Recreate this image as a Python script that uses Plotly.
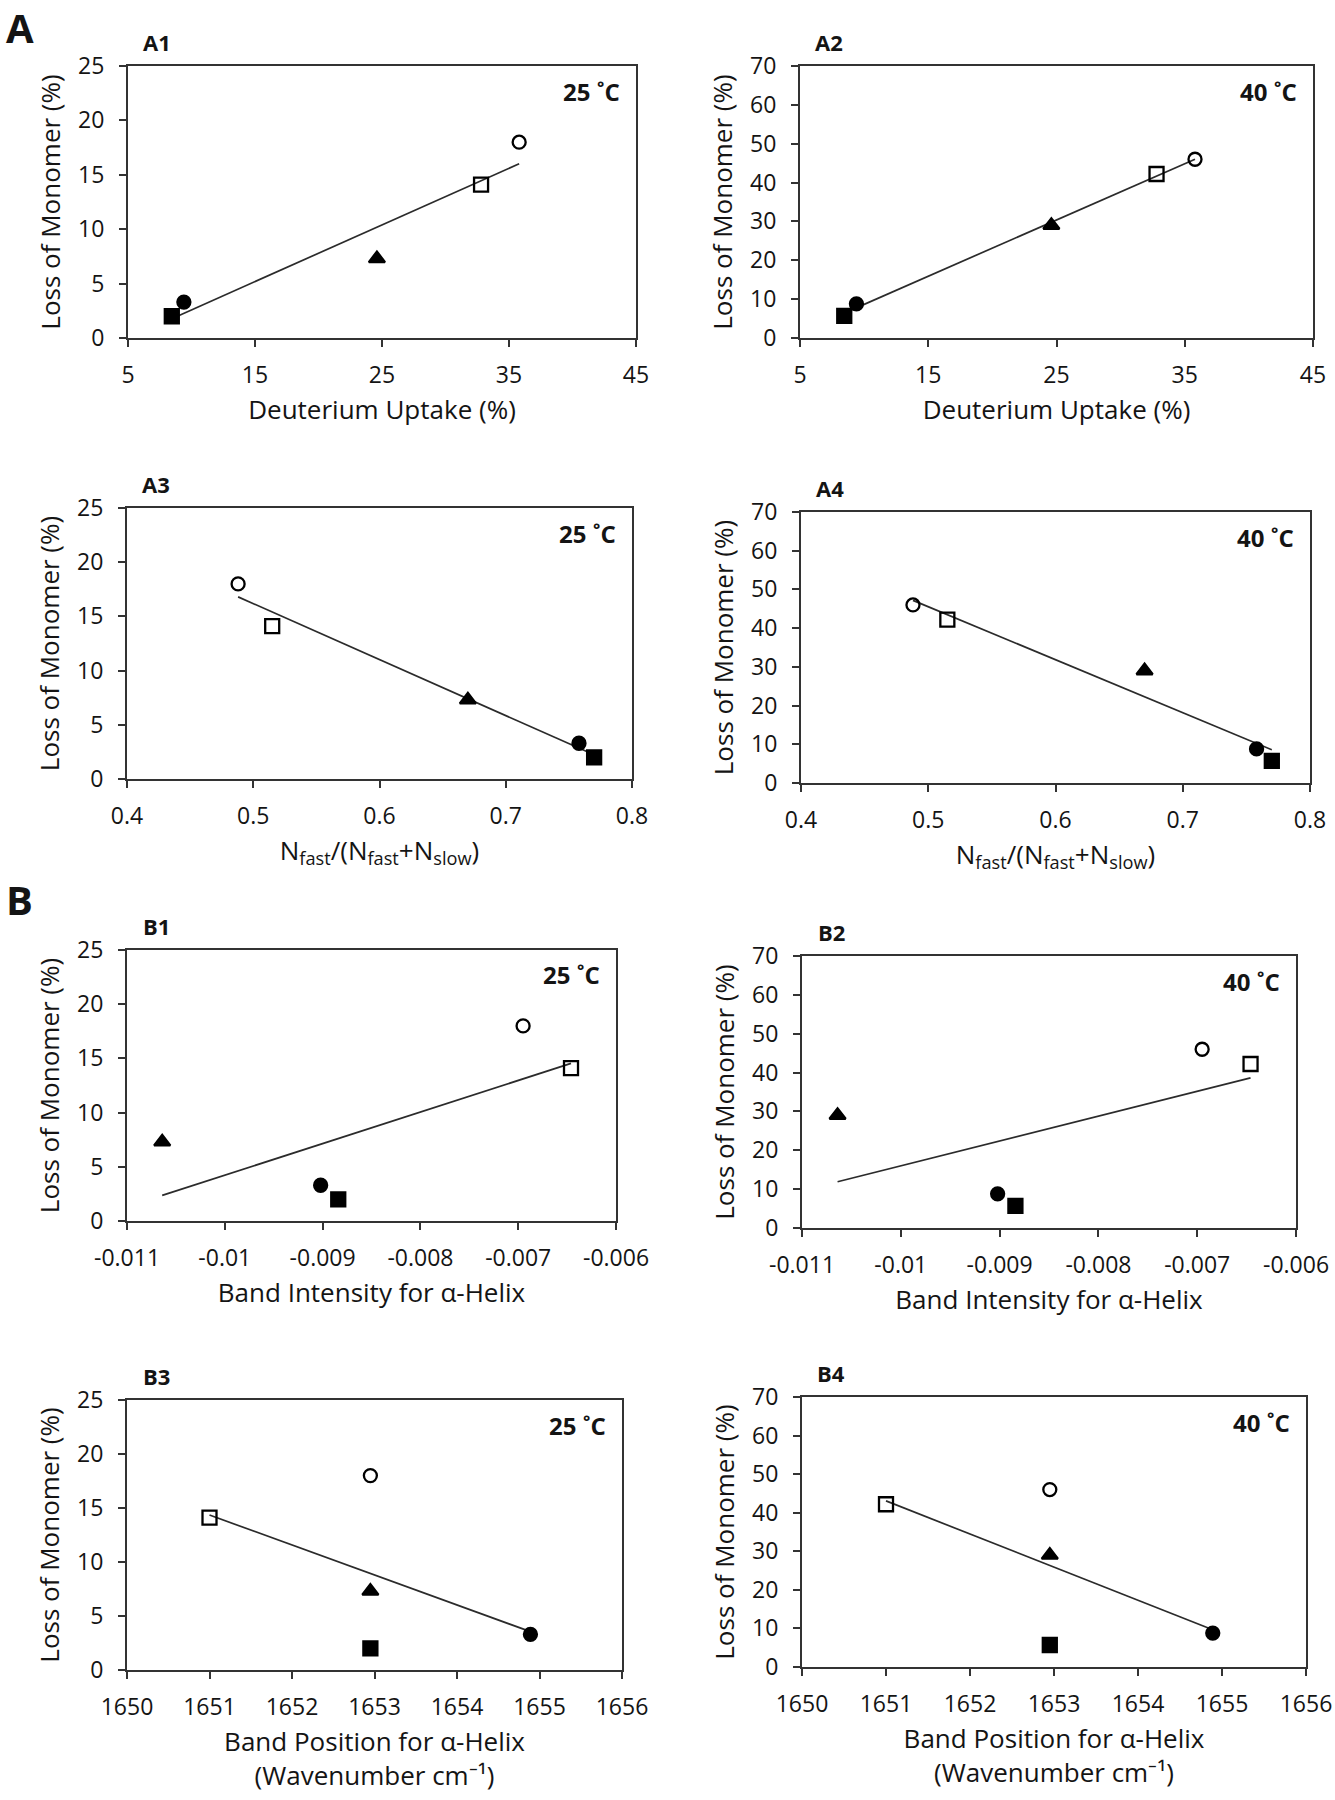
import numpy as np
import plotly.graph_objects as go

# ---------------- data ----------------
# sample order: filled square, filled circle, filled triangle, open square, open circle
sample_names = ["Sample 1", "Sample 2", "Sample 3", "Sample 4", "Sample 5"]
marker_symbols = ["square", "circle", "triangle-up", "square-open", "circle-open"]

loss_25C = [2.0, 3.3, 7.3, 14.1, 18.0]
loss_40C = [5.7, 8.8, 29.0, 42.2, 46.0]

deuterium_uptake = [8.45, 9.4, 24.6, 32.8, 35.8]
n_fast_fraction = [0.770, 0.758, 0.670, 0.515, 0.488]
band_intensity = [-0.00884, -0.00902, -0.01064, -0.00646, -0.00695]
band_position = [1652.95, 1654.89, 1652.95, 1651.0, 1652.95]

x_ticks_deut = [5, 15, 25, 35, 45]
x_ticks_frac = [0.4, 0.5, 0.6, 0.7, 0.8]
x_ticks_int = [-0.011, -0.010, -0.009, -0.008, -0.007, -0.006]
x_ticktext_int = ["-0.011", "-0.01", "-0.009", "-0.008", "-0.007", "-0.006"]
x_ticks_pos = [1650, 1651, 1652, 1653, 1654, 1655, 1656]
y_ticks_25 = [0, 5, 10, 15, 20, 25]
y_ticks_70 = [0, 10, 20, 30, 40, 50, 60, 70]

# ---------------- layout geometry (pixels) ----------------
W, H = 1335, 1800
FONT = "Open Sans"
TXT = "#141414"
AX = "#333333"

def px_x(x):
    return x / W

def px_y(y):
    return 1 - y / H

xt_deut = "Deuterium Uptake (%)"
xt_frac = "N<sub>fast</sub>/(N<sub>fast</sub>+N<sub>slow</sub>)"
xt_int = "Band Intensity for α-Helix"
xt_pos = "Band Position for α-Helix<br>(Wavenumber cm⁻¹)"

panels = [
    # label, temp, x, y, xticks, xtext, yticks, xtitle, box(l, r, t, b)
    ("A1", "25 ˚C", deuterium_uptake, loss_25C, x_ticks_deut, None, y_ticks_25, xt_deut, (128, 636, 66, 338)),
    ("A2", "40 ˚C", deuterium_uptake, loss_40C, x_ticks_deut, None, y_ticks_70, xt_deut, (800, 1313, 66, 338)),
    ("A3", "25 ˚C", n_fast_fraction, loss_25C, x_ticks_frac, None, y_ticks_25, xt_frac, (127, 632, 508, 779)),
    ("A4", "40 ˚C", n_fast_fraction, loss_40C, x_ticks_frac, None, y_ticks_70, xt_frac, (801, 1310, 512, 783)),
    ("B1", "25 ˚C", band_intensity, loss_25C, x_ticks_int, x_ticktext_int, y_ticks_25, xt_int, (127, 616, 950, 1221)),
    ("B2", "40 ˚C", band_intensity, loss_40C, x_ticks_int, x_ticktext_int, y_ticks_70, xt_int, (802, 1296, 956, 1228)),
    ("B3", "25 ˚C", band_position, loss_25C, x_ticks_pos, None, y_ticks_25, xt_pos, (127, 622, 1400, 1670)),
    ("B4", "40 ˚C", band_position, loss_40C, x_ticks_pos, None, y_ticks_70, xt_pos, (802, 1306, 1397, 1667)),
]

fig = go.Figure()
annotations = []

for i, (lab, temp, xs, ys, xticks, xtext, yticks, xtitle, box) in enumerate(panels):
    n = i + 1
    xa = "x" if n == 1 else f"x{n}"
    ya = "y" if n == 1 else f"y{n}"
    l, r, t, b = box

    # trend line (least-squares fit over the data)
    xs_a = np.array(xs, dtype=float)
    ys_a = np.array(ys, dtype=float)
    slope, intercept = np.polyfit(xs_a, ys_a, 1)
    xl = np.array([xs_a.min(), xs_a.max()])
    fig.add_trace(go.Scatter(x=xl, y=slope * xl + intercept, mode="lines",
                             line=dict(color="#2b2b2b", width=1.7),
                             xaxis=xa, yaxis=ya, showlegend=False, hoverinfo="skip"))

    for k in range(len(xs)):
        fig.add_trace(go.Scatter(
            x=[xs[k]], y=[ys[k]], mode="markers", name=sample_names[k],
            marker=dict(symbol=marker_symbols[k], size=13 if "circle" in marker_symbols[k] else 14,
                        color="black", line=dict(color="black", width=2.3)),
            xaxis=xa, yaxis=ya, showlegend=False, cliponaxis=False))

    axis_common = dict(showgrid=False, zeroline=False, showline=True, mirror=True,
                       linecolor=AX, linewidth=2, ticks="outside", ticklen=7,
                       tickwidth=1.5, tickcolor=AX, automargin=False,
                       tickfont=dict(family=FONT, size=23, color=TXT))
    xkey = "xaxis" if n == 1 else f"xaxis{n}"
    ykey = "yaxis" if n == 1 else f"yaxis{n}"
    xd = dict(axis_common, domain=[px_x(l), px_x(r)], anchor=ya,
              range=[xticks[0], xticks[-1]], tickvals=xticks,
              ticklabelstandoff=8,
              title=dict(text=xtitle, font=dict(family=FONT, size=26, color=TXT), standoff=12))
    if xtext is not None:
        xd["ticktext"] = xtext
    yd = dict(axis_common, domain=[px_y(b), px_y(t)], anchor=xa,
              range=[yticks[0], yticks[-1]], tickvals=yticks,
              ticklabelstandoff=10,
              title=dict(text="Loss of Monomer (%)", font=dict(family=FONT, size=26, color=TXT), standoff=10))
    fig.update_layout({xkey: xd, ykey: yd})

    # panel label
    annotations.append(dict(text=f"<b>{lab}</b>", x=px_x(l + 29), y=px_y(t - 24),
                            xref="paper", yref="paper", showarrow=False,
                            xanchor="center", yanchor="middle",
                            font=dict(family=FONT, size=22, color=TXT)))
    # temperature label
    annotations.append(dict(text=f"<b>{temp}</b>", x=px_x(r - 14), y=px_y(t + 25),
                            xref="paper", yref="paper", showarrow=False,
                            xanchor="right", yanchor="middle",
                            font=dict(family=FONT, size=24, color=TXT)))

# section letters
annotations.append(dict(text="<b>A</b>", x=px_x(4), y=px_y(27), xref="paper", yref="paper",
                        showarrow=False, xanchor="left", yanchor="middle",
                        font=dict(family=FONT, size=40, color=TXT)))
annotations.append(dict(text="<b>B</b>", x=px_x(4), y=px_y(899), xref="paper", yref="paper",
                        showarrow=False, xanchor="left", yanchor="middle",
                        font=dict(family=FONT, size=40, color=TXT)))

fig.update_layout(width=W, height=H, margin=dict(l=0, r=0, t=0, b=0),
                  paper_bgcolor="white", plot_bgcolor="white",
                  annotations=annotations, showlegend=False,
                  font=dict(family=FONT, color=TXT))

fig.write_html("out.html", config={"displayModeBar": False},
               post_script="document.body.style.margin='0';"
                           "document.documentElement.style.overflow='hidden';")
